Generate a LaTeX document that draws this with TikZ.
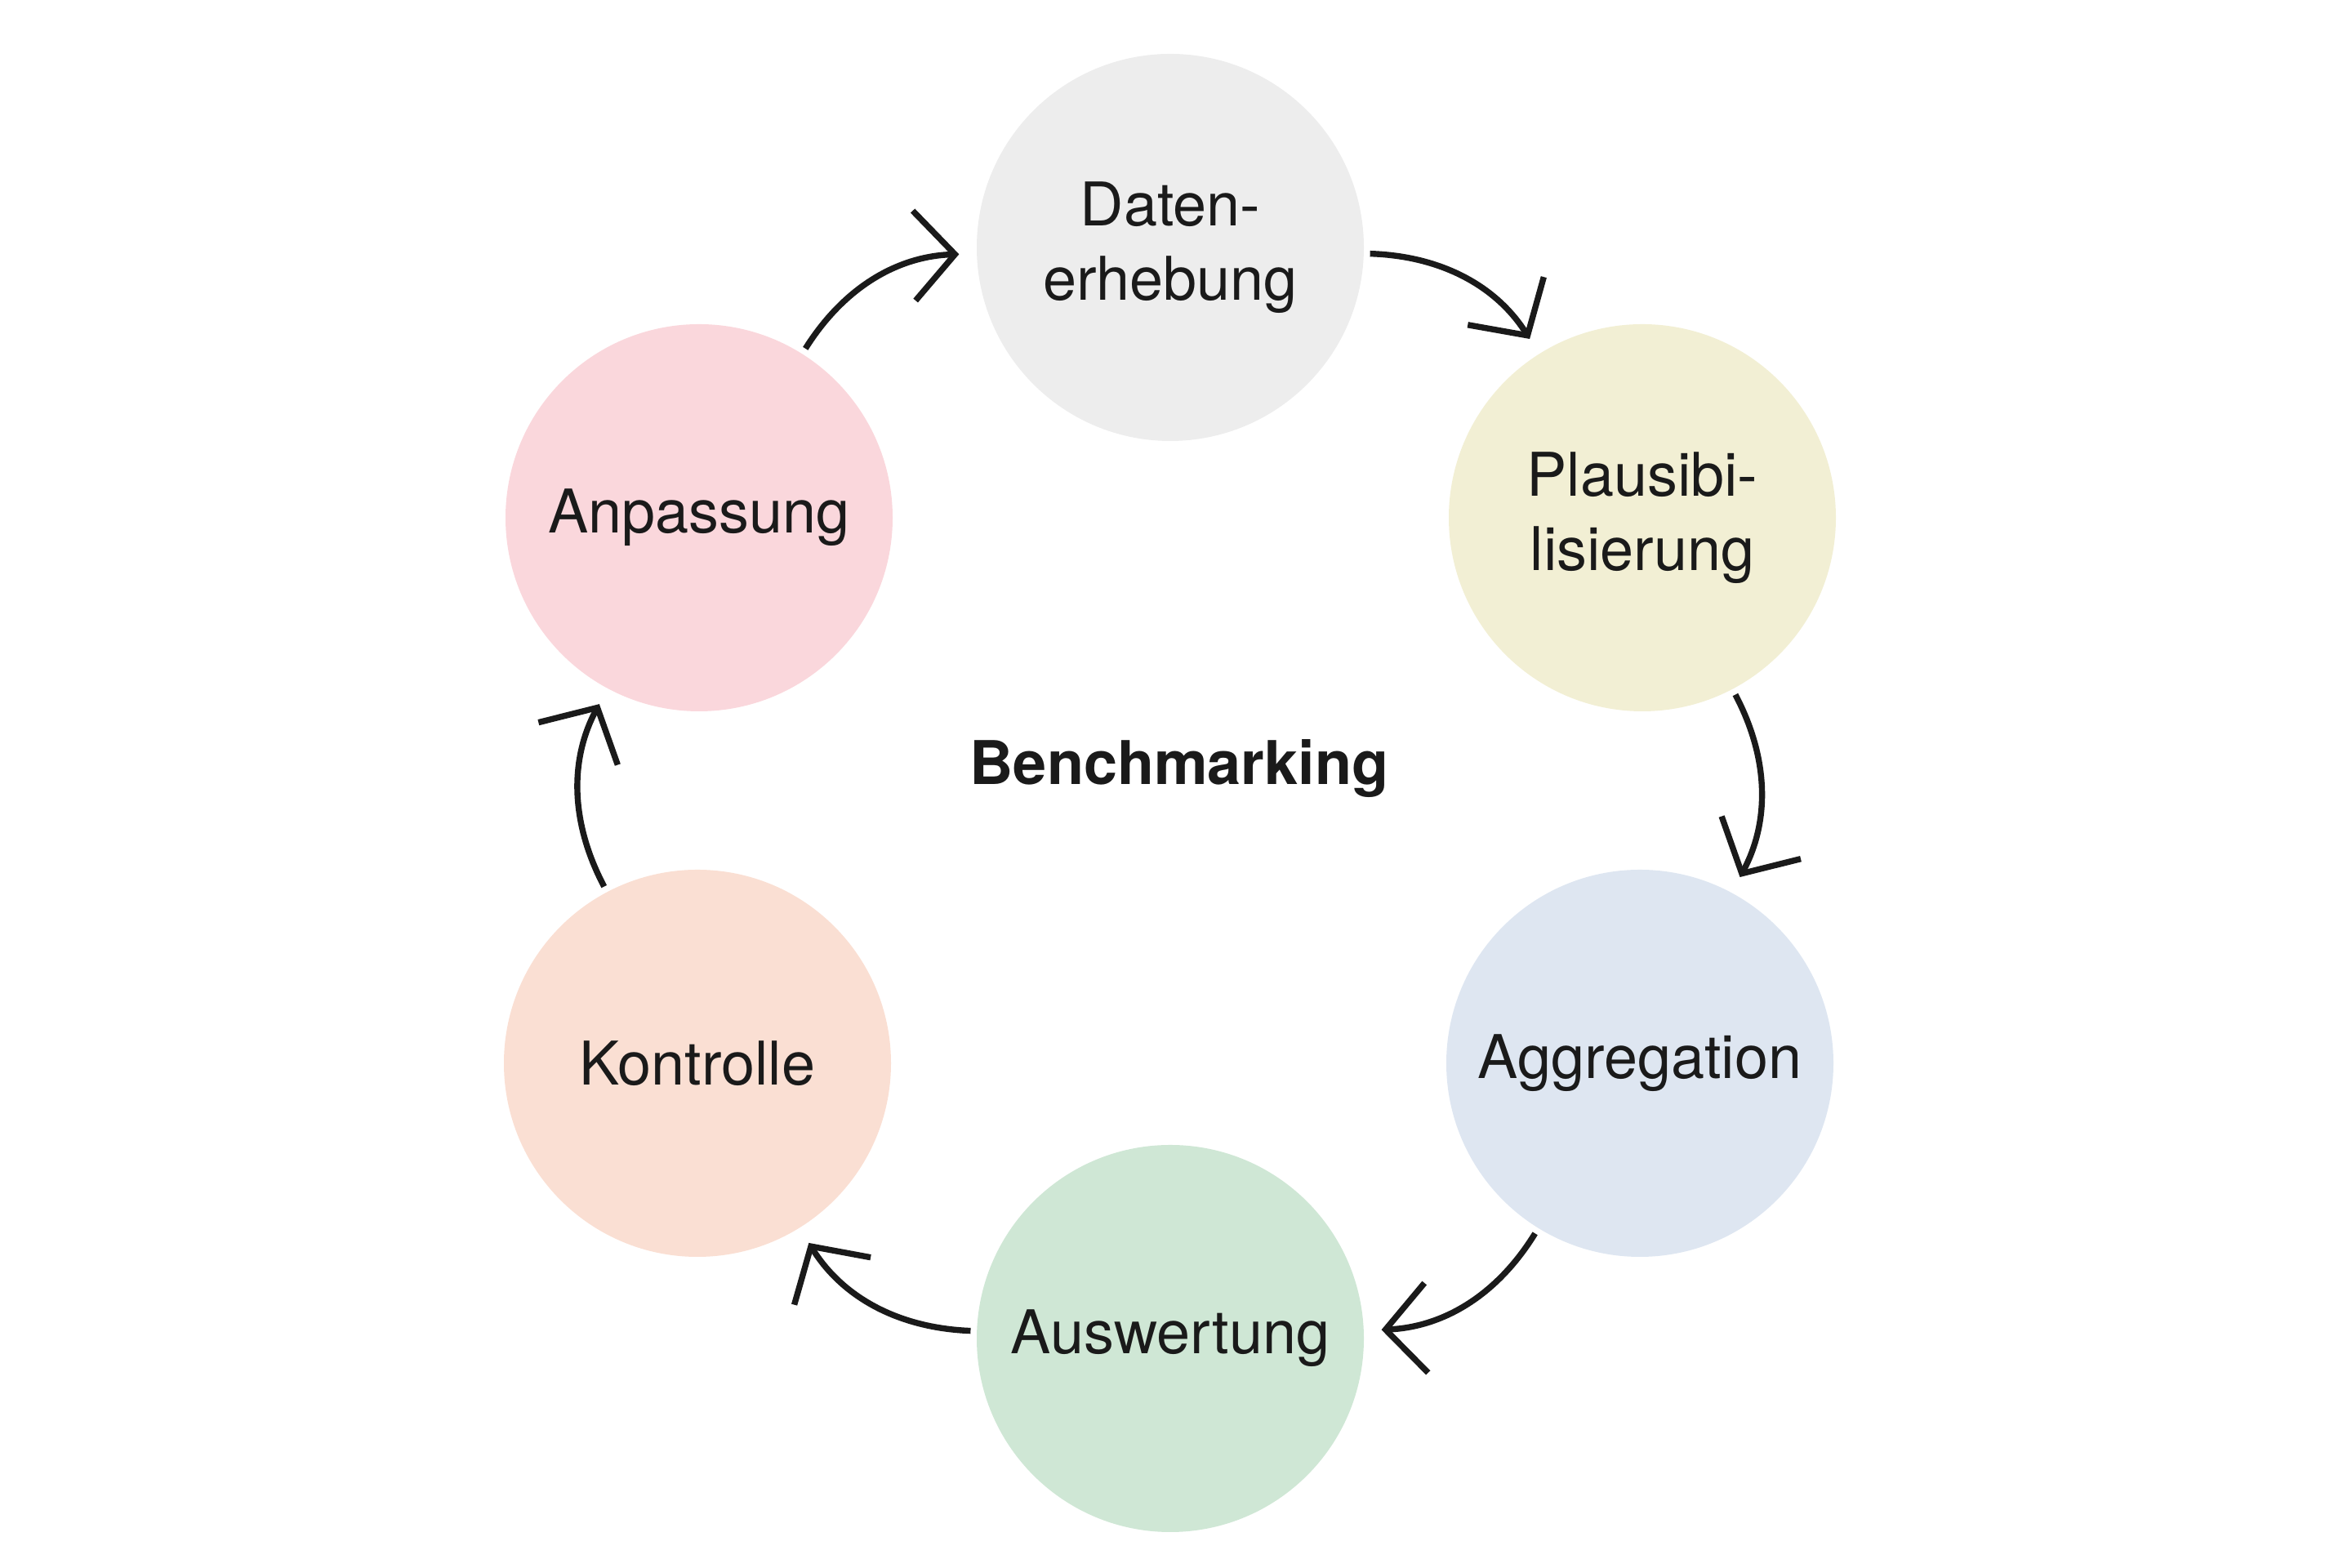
\documentclass[tikz,border=0pt]{standalone}
\usepackage{fontspec}
\setmainfont{TeX Gyre Heros}
\usetikzlibrary{arrows.meta}
\definecolor{cG}{HTML}{EDEDED}
\definecolor{cY}{HTML}{F2EFD4}
\definecolor{cB}{HTML}{DEE6F1}
\definecolor{cN}{HTML}{CFE7D5}
\definecolor{cO}{HTML}{FADFD3}
\definecolor{cP}{HTML}{FAD7DC}
\definecolor{ink}{HTML}{1A1A1A}
\begin{document}
\begin{tikzpicture}[
  st/.style={circle,minimum size=4.74cm,inner sep=0pt,align=center,font=\fontsize{21}{26}\selectfont,text=ink},
  ar/.style={draw=ink,line width=2.1pt,-{Straight Barb[length=5mm,width=11mm,line width=2.1pt]},bend left=28,shorten <=2pt,shorten >=6pt}]
\useasboundingbox (0,0) rectangle (28.8,19.2);
\node[st,fill=cG] (d) at (14.33,16.17) {Daten-\\erhebung};
\node[st,fill=cY] (p) at (20.11,12.86) {Plausibi-\\lisierung};
\node[st,fill=cB] (g) at (20.08,6.18) {Aggregation};
\node[st,fill=cN] (a) at (14.33,2.81) {Auswertung};
\node[st,fill=cO] (k) at (8.54,6.18) {Kontrolle};
\node[st,fill=cP] (n) at (8.56,12.86) {Anpassung};
\node[font=\bfseries\fontsize{21}{26}\selectfont,text=ink] (b) at (14.44,9.79) {Benchmarking};
\draw[ar] (d) to (p);
\draw[ar] (p) to (g);
\draw[ar] (g) to (a);
\draw[ar] (a) to (k);
\draw[ar] (k) to (n);
\draw[ar] (n) to (d);
\end{tikzpicture}
\end{document}
